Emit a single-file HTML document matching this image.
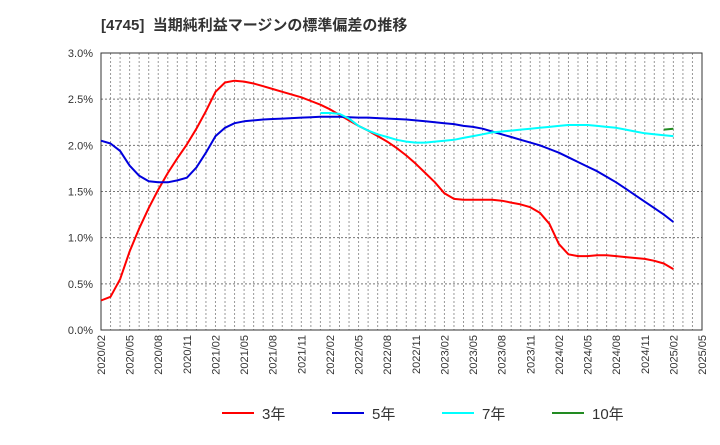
<!DOCTYPE html>
<html><head><meta charset="utf-8"><style>
body{margin:0;background:#fff;font-family:"Liberation Sans","Noto Sans CJK JP",sans-serif;}
</style></head><body>
<svg width="720" height="440" xmlns="http://www.w3.org/2000/svg" font-family="Liberation Sans, Noto Sans CJK JP, sans-serif">
<text x="101" y="30" font-size="15" font-weight="bold" fill="#333">[4745]&#160;&#160;当期純利益マージンの標準偏差の推移</text>
<g id="grid"></g>
<rect x="101" y="53" width="601" height="277" fill="none" stroke="#333" stroke-width="1"/>
<g id="ylabels"></g><g id="xlabels"></g><g id="series"></g><g id="legend"></g>
</svg>
<script>
const months=['2020/02','2020/05','2020/08','2020/11','2021/02','2021/05','2021/08','2021/11','2022/02','2022/05','2022/08','2022/11','2023/02','2023/05','2023/08','2023/11','2024/02','2024/05','2024/08','2024/11','2025/02','2025/05'];
const yTicks=[0,0.5,1.0,1.5,2.0,2.5,3.0];
const s3=[0.32,0.36,0.55,0.85,1.10,1.32,1.52,1.70,1.86,2.01,2.18,2.37,2.58,2.68,2.70,2.69,2.67,2.64,2.61,2.58,2.55,2.52,2.48,2.44,2.39,2.33,2.27,2.21,2.16,2.10,2.04,1.97,1.89,1.80,1.70,1.60,1.48,1.42,1.41,1.41,1.41,1.41,1.40,1.38,1.36,1.33,1.27,1.15,0.93,0.82,0.80,0.80,0.81,0.81,0.80,0.79,0.78,0.77,0.75,0.72,0.66];
const s5=[2.05,2.02,1.94,1.78,1.67,1.61,1.60,1.60,1.62,1.65,1.76,1.92,2.10,2.19,2.24,2.26,2.27,2.28,2.285,2.29,2.295,2.30,2.305,2.31,2.31,2.31,2.305,2.30,2.30,2.295,2.29,2.285,2.28,2.27,2.26,2.25,2.24,2.23,2.21,2.20,2.18,2.15,2.12,2.09,2.06,2.03,2.00,1.96,1.92,1.87,1.82,1.77,1.72,1.66,1.60,1.53,1.46,1.39,1.32,1.25,1.17];
const s7=[2.35,2.35,2.34,2.29,2.21,2.16,2.12,2.09,2.06,2.04,2.03,2.03,2.04,2.05,2.06,2.08,2.10,2.12,2.14,2.15,2.16,2.17,2.18,2.19,2.20,2.21,2.22,2.22,2.22,2.21,2.20,2.19,2.17,2.15,2.13,2.12,2.11,2.10];
const s7start=23;
const s10=[2.17,2.18];
const s10start=59;
const NS='http://www.w3.org/2000/svg';
const X0=101,X1=702,Y0=330,Y1=53,NM=63;
const xs=i=>X0+(X1-X0)*i/NM;
const ys=v=>Y0-(Y0-Y1)*v/3.0;
function mk(t,a,p){const e=document.createElementNS(NS,t);for(const k in a)e.setAttribute(k,a[k]);document.getElementById(p).appendChild(e);return e;}
for(let i=1;i<NM;i++){const l=mk('line',{x1:xs(i),x2:xs(i),y1:Y1,y2:Y0,stroke:'#999','stroke-dasharray':'2,2','stroke-width':1},'grid');

}
yTicks.forEach(v=>{if(v>0&&v<3){const l=mk('line',{x1:X0,x2:X1,y1:ys(v),y2:ys(v),stroke:'#777','stroke-dasharray':'2,2','stroke-width':1},'grid');

}
const t=mk('text',{x:93,y:ys(v)+4,'text-anchor':'end','font-size':11,fill:'#333'},'ylabels');t.textContent=v.toFixed(1)+'%';

});
months.forEach((m,i)=>{const x=xs(i*3);const t=mk('text',{x:x+4,y:335,'text-anchor':'end','font-size':11,fill:'#333',transform:`rotate(-90 ${x+4} 335)`},'xlabels');t.textContent=m;

});
function line(arr,start,color,name){const p=arr.map((v,i)=>xs(start+i).toFixed(1)+','+ys(v).toFixed(1)).join(' ');
const e=mk('polyline',{points:p,fill:'none',stroke:color,'stroke-width':2,'stroke-linejoin':'round'},'series');

}
line(s3,0,'#ff0000','series-3yr');line(s5,0,'#0000dd','series-5yr');line(s7,s7start,'#00ffff','series-7yr');line(s10,s10start,'#228b22','series-10yr');
const leg=[['3年','#ff0000',222],['5年','#0000dd',332],['7年','#00ffff',442],['10年','#228b22',552]];
leg.forEach(([n,c,x])=>{const l=mk('line',{x1:x,x2:x+32,y1:413,y2:413,stroke:c,'stroke-width':2},'legend');


const t=mk('text',{x:x+40,y:419,'font-size':15,fill:'#333'},'legend');t.textContent=n;

});
</script>
</body></html>
